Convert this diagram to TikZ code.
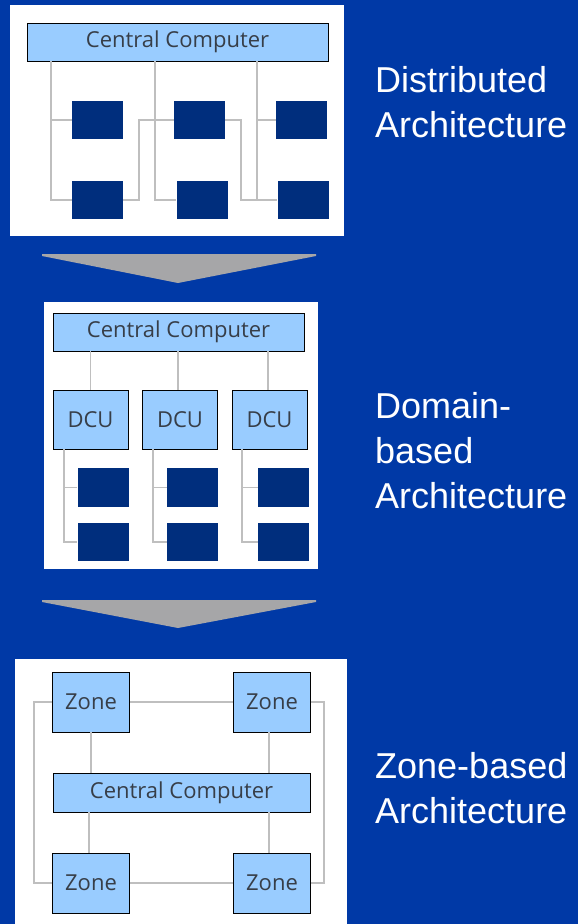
\documentclass[tikz,border=0pt]{standalone}
\usepackage{fontspec}
\usepackage{tikz}
\usetikzlibrary{positioning}
\setmainfont{Liberation Sans}
\newfontfamily\boxfont{Open Sans}

\definecolor{bgblue}{RGB}{0,57,166}
\definecolor{boxblue}{RGB}{153,204,255}
\definecolor{ecublue}{RGB}{0,46,125}
\definecolor{wiregray}{RGB}{191,191,191}
\definecolor{arrowgray}{RGB}{166,166,168}
\definecolor{boxtext}{RGB}{55,62,72}

\tikzset{
    panel/.style={fill=white},
    unit/.style={draw={RGB:red,200;green,200;blue,200}, line width=0.8, fill=boxblue,
        inner sep=0, text=boxtext, font=\boxfont\fontsize{22}{24}\selectfont},
    ecu/.style={fill=ecublue, inner sep=0, minimum width=51, minimum height=38},
    wire/.style={draw=wiregray, line width=1.3},
    label/.style={text=white, align=left, anchor=base west, inner sep=0,
        font=\fontsize{36}{45}\selectfont}
}

\begin{document}
\begin{tikzpicture}[x=1pt,y=-1pt]
    \fill[bgblue] (0,0) rectangle (578,924);

    % distributed
    \fill[panel] (10,5) rectangle (344,236);
    \node [unit, minimum width=301, minimum height=38] (cc1) at (177.5,42) {Central Computer};
    \node [ecu] (e11) at (97.5,120) {};
    \node [ecu] (e12) at (97.5,200) {};
    \node [ecu] (e21) at (199.5,120) {};
    \node [ecu] (e22) at (202,200) {};
    \node [ecu] (e31) at (301.5,120) {};
    \node [ecu] (e32) at (303,200) {};
    \path[wire]
        (cc1.south -| 51,0) |- (e12.west)
        (e11.west) -- ++(-21,0)
        (cc1.south -| 155,0) |- (e22.west)
        (e21.west) -- ++(-19,0)
        (cc1.south -| 257,0) |- (e32.west)
        (e31.west) -- ++(-19,0)
        (e12.east) -| (139,120) -- (e21.west)
        (e21.east) -| (241,200) -- (e32.west);
    \node [label] (t1) at (375,137) {Distributed\\Architecture};

    \fill[arrowgray] (42,254) -- (316,254) -- (316,256) -- (178,283) -- (42,256) -- cycle;

    % domain based
    \fill[panel] (44,302) rectangle (318,569);
    \node [unit, minimum width=251, minimum height=38] (cc2) at (178.5,332) {Central Computer};
    \node [unit, minimum width=75, minimum height=59] (d1) at (90.5,419.5) {DCU};
    \node [unit, minimum width=75, minimum height=59] (d2) at (180,419.5) {DCU};
    \node [unit, minimum width=75, minimum height=59] (d3) at (269.5,419.5) {DCU};
    \node [ecu, minimum height=39] (f11) at (103,487.5) {};
    \node [ecu] (f12) at (103,542) {};
    \node [ecu, minimum height=39] (f21) at (192.5,487.5) {};
    \node [ecu] (f22) at (192.5,542) {};
    \node [ecu, minimum height=39] (f31) at (283.5,487.5) {};
    \node [ecu] (f32) at (283.5,542) {};
    \path[wire]
        (d1.north) -- (d1.north |- cc2.south)
        (d2.north -| 178,0) -- (cc2.south -| 178,0)
        (d3.north -| 268,0) -- (cc2.south -| 268,0)
        (d1.south -| 64,0) |- (f12.west)
        (f11.west) -- ++(-14,0)
        (d2.south -| 153,0) |- (f22.west)
        (f21.west) -- ++(-14,0)
        (d3.south -| 242,0) |- (f32.west)
        (f31.west) -- ++(-16,0);
    \node [label] (t2) at (375,508) {Domain-\\based\\Architecture};

    \fill[arrowgray] (42,600) -- (316,600) -- (316,602) -- (178,628) -- (42,602) -- cycle;

    % zone based
    \fill[panel] (15,659) rectangle (347,924);
    \node [unit, minimum width=257, minimum height=39] (cc3) at (181.5,792.5) {Central Computer};
    \node [unit, minimum width=77, minimum height=60] (z1) at (91,702) {Zone};
    \node [unit, minimum width=77, minimum height=60] (z2) at (272,702) {Zone};
    \node [unit, minimum width=77, minimum height=60] (z3) at (91,883) {Zone};
    \node [unit, minimum width=77, minimum height=60] (z4) at (272,883) {Zone};
    \path[wire]
        (z1.east) -- (z2.west)
        (z3.east) -- (z4.west)
        (z1.south) -- (z1.south |- cc3.north)
        (z2.south -| 269,0) -- (cc3.north -| 269,0)
        (cc3.south -| 89,0) -- (z3.north -| 89,0)
        (cc3.south -| 269,0) -- (z4.north -| 269,0)
        (z1.west) -- ++(-18,0) |- (z3.west)
        (z2.east) -- ++(13,0) |- (z4.east);
    \node [label] (t3) at (375,823) {Zone-based\\Architecture};
\end{tikzpicture}
\end{document}
